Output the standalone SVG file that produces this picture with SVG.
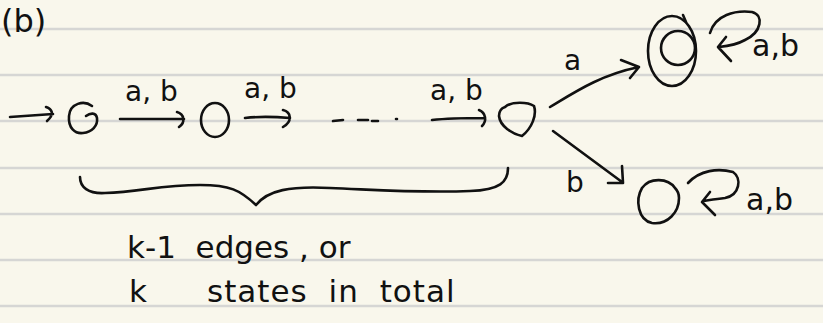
<svg xmlns="http://www.w3.org/2000/svg" width="823" height="323" viewBox="0 0 823 323">
<style>
.ink{fill:none;stroke:#111;stroke-width:2.6;stroke-linecap:round;stroke-linejoin:round}
.rule{stroke:#d6d6d4;stroke-width:2.5}
.t{font-family:"DejaVu Sans","Liberation Sans",sans-serif;fill:#111}
</style>
<rect width="823" height="323" fill="#f9f7ec"/>
<g id="rules">
<line class="rule" x1="0" y1="29" x2="823" y2="29"/>
<line class="rule" x1="0" y1="75" x2="823" y2="75"/>
<line class="rule" x1="0" y1="121" x2="823" y2="121"/>
<line class="rule" x1="0" y1="168" x2="823" y2="168"/>
<line class="rule" x1="0" y1="214" x2="823" y2="214"/>
<line class="rule" x1="0" y1="260" x2="823" y2="260"/>
<line class="rule" x1="0" y1="306" x2="823" y2="306"/>
</g>
<text class="t" x="1" y="32" font-size="32">(b)</text>
<g id="q0"><path class="ink" d="M92 106 C84 100 70 103 69 116 C68 128 75 134 83 133 C92 132 98 126 97 118 C96 112 90 113 86 116"/></g>
<g id="q1"><ellipse class="ink" cx="215" cy="120" rx="14" ry="17"/></g>
<g id="qk"><path class="ink" d="M505 107 C512 101 528 102 534 106 C537 115 532 128 522 136 C512 134 500 126 499 116 C499 110 502 108 505 107"/></g>
<g id="acc"><ellipse class="ink" cx="672" cy="51" rx="24" ry="35"/><ellipse class="ink" cx="678" cy="48" rx="17" ry="17"/><path class="ink" d="M683 15 L686 22"/></g>
<g id="sink"><path class="ink" d="M675 188 C668 178 650 177 642 188 C635 200 638 220 652 223 C668 225 679 212 679 198 C679 193 677 190 675 188"/></g>
<g id="connectors">
<path class="ink" d="M10 117 L53 114 M46 107 C52 109 55 114 47 121"/>
<path class="ink" d="M120 119 L184 119 M177 112 C184 114 186 122 179 127"/>
<path class="ink" d="M245 118 C262 116 278 117 290 118 M283 110 C291 112 293 121 283 127"/>
<path class="ink" d="M333 121 L343 120 M358 120 L368 120 M372 121 L378 121 M396 119 L397 119"/>
<path class="ink" d="M432 120 C450 118 470 118 484 118 M479 110 C486 113 487 121 482 126"/>
<path class="ink" d="M550 107 C575 92 600 75 639 67 M621 60 L639 67 L630 78"/>
<path class="ink" d="M553 131 L622 182 M622 166 L623 183 L608 183"/>
<path class="ink" d="M710 33 C715 15 735 10 752 12 C764 15 762 32 745 40 C738 44 728 46 719 47 M726 37 L718 47 L731 61"/>
<path class="ink" d="M688 183 C700 170 718 168 733 172 C742 178 740 195 725 198 C716 199 710 200 703 201 M710 192 L702 202 L715 215"/>
<path class="ink" d="M80 177 C80 187 88 194 105 193 C140 192 160 185 200 185 C230 185 240 190 256 205 C268 190 290 186 330 188 C380 190 420 193 470 191 C500 190 508 182 508 168"/>
</g>
<g id="labels">
<text class="t" x="125" y="101" font-size="28">a, b</text>
<text class="t" x="244" y="98" font-size="28">a, b</text>
<text class="t" x="430" y="100" font-size="28">a, b</text>
<text class="t" x="564" y="70" font-size="28">a</text>
<text class="t" x="752" y="56" font-size="30">a,b</text>
<text class="t" x="566" y="192" font-size="28">b</text>
<text class="t" x="746" y="210" font-size="30">a,b</text>
<text class="t" font-size="31" x="127" y="258" xml:space="preserve">k-1  edges , or</text>
<text class="t" font-size="31" x="129" y="302" xml:space="preserve">k <tspan x="207" word-spacing="10" letter-spacing="1">states in total</tspan></text>
</g>
</svg>
